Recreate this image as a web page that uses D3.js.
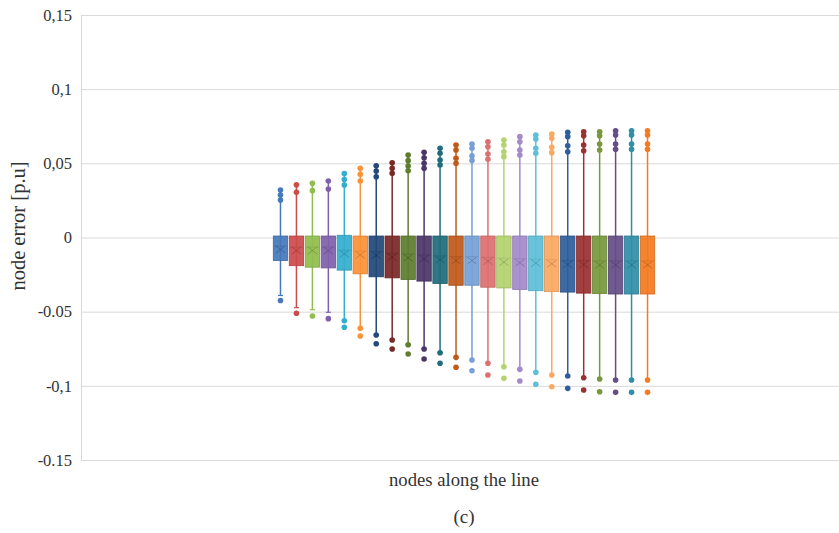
<!DOCTYPE html>
<html>
<head>
<meta charset="utf-8">
<script src="https://cdn.jsdelivr.net/npm/d3@7"></script>
<style>
  html, body { margin: 0; padding: 0; background: #ffffff; }
  svg { display: block; }
  text { font-family: "Liberation Serif", "DejaVu Serif", serif; fill: #333333; }
</style>
</head>
<body>
<svg id="chart" width="839" height="533"></svg>
<script>
// ---------------- data ----------------
const categories = ["nodes along the line"];
const series = ["1","2","3","4","5","6","7","8","9","10","11","12",
                "13","14","15","16","17","18","19","20","21","22","23","24"];
const colors = ["#4579BA","#CC4B4B","#90BD4C","#8060AC","#34AECF","#FB9238",
                "#22497A","#7A2828","#5E7D2E","#4C3668","#1F6D7C","#C05A1B",
                "#76A0D6","#DD7070","#B3D36E","#A48ACA","#5EC0D8","#FBA962",
                "#2E5F9C","#9A3232","#77993C","#654D87","#2F8FA8","#F47B20"];
const q3 = [0.001,0.001,0.001,0.001,0.0015,0.001,0.001,0.001,0.001,0.001,0.001,0.001,
            0.001,0.001,0.001,0.001,0.001,0.001,0.001,0.001,0.001,0.001,0.001,0.001];
const q1 = [-0.0155,-0.019,-0.020,-0.0205,-0.022,-0.0245,-0.0265,-0.0272,-0.0283,-0.0294,-0.031,-0.0322,
            -0.0322,-0.0335,-0.034,-0.035,-0.0359,-0.0365,-0.0368,-0.0375,-0.0378,-0.0381,-0.0381,-0.0381];
const means = [-0.0081,-0.0088,-0.0088,-0.0088,-0.011,-0.0117,-0.012,-0.0133,-0.0137,-0.0144,-0.015,-0.0155,
               -0.0155,-0.016,-0.0166,-0.017,-0.0173,-0.0177,-0.0182,-0.0182,-0.0185,-0.0185,-0.0185,-0.0185];
const medians = [-0.0058,-0.0064,-0.0064,-0.0064,-0.0085,-0.0092,-0.0095,-0.0107,-0.0111,-0.0118,-0.0124,-0.0129,
                 -0.0129,-0.0134,-0.0139,-0.0143,-0.0146,-0.015,-0.0155,-0.0155,-0.0158,-0.0158,-0.0158,-0.0158];
const highWhisker = [0.032,0.0356,0.0365,0.0381,0.0431,0.0467,0.0484,0.0504,0.0556,0.0574,0.0601,0.0624,
                     0.063,0.0646,0.0657,0.068,0.0691,0.0698,0.0709,0.0713,0.0713,0.072,0.072,0.072];
const highPoints = [
  [0.032,0.0287,0.0253],[0.0356,0.0305],[0.0365,0.0316],[0.0381,0.0327],
  [0.0431,0.0391,0.0354],[0.0467,0.0426,0.0381],[0.0484,0.0448,0.041],[0.0504,0.0467,0.0433],
  [0.0556,0.0518,0.0482,0.045],[0.0574,0.0538,0.05,0.0467],[0.0601,0.0568,0.0522,0.0489],[0.0624,0.059,0.0534,0.05],
  [0.063,0.0601,0.055,0.0519],[0.0646,0.0612,0.0563,0.0527],[0.0657,0.0624,0.0578,0.0545],[0.068,0.0646,0.059,0.0556],
  [0.0691,0.0664,0.0601,0.0568],[0.0698,0.0669,0.0608,0.0572],[0.0709,0.068,0.0619,0.0578],[0.0713,0.0686,0.0624,0.0585],
  [0.0713,0.0686,0.063,0.059],[0.072,0.0691,0.063,0.0595],[0.072,0.0691,0.063,0.0595],[0.072,0.0691,0.063,0.0595]
];
const lowWhisker = [-0.0391,-0.0473,-0.0487,-0.0504,-0.0561,-0.0612,-0.0657,-0.0691,-0.0723,-0.0752,-0.0777,-0.0808,
                    -0.0826,-0.0848,-0.0871,-0.0889,-0.0909,-0.0927,-0.0934,-0.0945,-0.0954,-0.0961,-0.0961,-0.0961];
const lowPoints = [
  [-0.0425],[-0.0511],[-0.0529],[-0.0547],
  [-0.0561,-0.0605],[-0.0612,-0.0664],[-0.0657,-0.0716],[-0.0691,-0.0752],
  [-0.0723,-0.0785],[-0.0752,-0.0819],[-0.0777,-0.0848],[-0.0808,-0.0875],
  [-0.0826,-0.0898],[-0.0848,-0.0927],[-0.0871,-0.0949],[-0.0889,-0.0967],
  [-0.0909,-0.099],[-0.0927,-0.1006],[-0.0934,-0.1017],[-0.0945,-0.1028],
  [-0.0954,-0.104],[-0.0961,-0.1044],[-0.0961,-0.1044],[-0.0961,-0.1044]
];
const tickValues = [0.15, 0.1, 0.05, 0, -0.05, -0.1, -0.15];
const tickLabels = ["0,15", "0,1", "0,05", "0", "-0.05", "-0,1", "-0.15"];
const xTitle = "nodes along the line";
const yTitle = "node error [p.u]";
const caption = "(c)";

// ---------------- layout ----------------
const svg = d3.select("#chart");
const plotLeft = 81, plotRight = 847, plotTop = 15, plotBottom = 460;

const y = d3.scaleLinear().domain([-0.15, 0.15]).range([plotBottom, plotTop]);
const x0 = d3.scaleBand().domain(categories).range([plotLeft, plotRight])
  .paddingInner(0).paddingOuter(0.5);
const x1 = d3.scaleBand().domain(series).range([0, x0.bandwidth()])
  .paddingInner(0.1).paddingOuter(0.05);

// gridlines
const grid = svg.append("g").attr("transform", `translate(${plotLeft},0)`)
  .call(d3.axisLeft(y).tickValues(tickValues).tickSize(-(plotRight - plotLeft)).tickFormat(""));
grid.select(".domain").remove();
grid.selectAll("line").attr("stroke", "#d9d9d9").attr("stroke-width", 1);

// left border
svg.append("line").attr("x1", plotLeft + 0.5).attr("x2", plotLeft + 0.5)
  .attr("y1", plotTop).attr("y2", plotBottom).attr("stroke", "#d9d9d9");

// tick labels
const yAxis = svg.append("g").attr("transform", `translate(${plotLeft - 9},0)`)
  .call(d3.axisLeft(y).tickValues(tickValues).tickSize(0).tickPadding(0)
        .tickFormat((d, i) => tickLabels[i]));
yAxis.select(".domain").remove();
yAxis.selectAll("text").attr("font-size", 16.5).attr("fill", "#333")
  .attr("font-family", "Liberation Serif, serif");

// boxes
const data = series.map((s, i) => ({
  s, c: colors[i], q1: q1[i], q3: q3[i], mean: means[i], med: medians[i],
  hw: highWhisker[i], lw: lowWhisker[i], hp: highPoints[i], lp: lowPoints[i]
}));

const g = svg.append("g").selectAll("g.box").data(data).join("g")
  .attr("class", "box")
  .attr("transform", d => `translate(${x0(categories[0]) + x1(d.s)},0)`);

const bw = x1.bandwidth();
const cx = bw / 2;

// whiskers
g.append("line").attr("x1", cx).attr("x2", cx)
  .attr("y1", d => y(d.hw)).attr("y2", d => y(d.lw))
  .attr("stroke", d => d.c).attr("stroke-width", 1.5);
// caps
g.append("line").attr("x1", cx - 2.5).attr("x2", cx + 2.5)
  .attr("y1", d => y(d.lw)).attr("y2", d => y(d.lw))
  .attr("stroke", d => d.c).attr("stroke-width", 1.2);
g.append("line").attr("x1", cx - 2.5).attr("x2", cx + 2.5)
  .attr("y1", d => y(d.hw)).attr("y2", d => y(d.hw))
  .attr("stroke", d => d.c).attr("stroke-width", 1.2);

// box
g.append("rect").attr("x", 0).attr("width", bw)
  .attr("y", d => y(d.q3)).attr("height", d => y(d.q1) - y(d.q3))
  .attr("fill", d => d.c).attr("fill-opacity", 0.93)
  .attr("stroke", d => d3.color(d.c).darker(0.4)).attr("stroke-width", 0.8);

// median
g.append("line").attr("x1", 0.5).attr("x2", bw - 0.5)
  .attr("y1", d => y(d.med)).attr("y2", d => y(d.med))
  .attr("stroke", d => d3.color(d.c).darker(0.7)).attr("stroke-opacity", 0.45)
  .attr("stroke-width", 0.8);

// mean X
g.append("path")
  .attr("d", d => {
    const my = y(d.mean);
    return `M${cx - 4.5},${my - 3.5}L${cx + 4.5},${my + 3.5}M${cx - 4.5},${my + 3.5}L${cx + 4.5},${my - 3.5}`;
  })
  .attr("stroke", d => d3.color(d.c).darker(0.8)).attr("stroke-opacity", 0.7)
  .attr("stroke-width", 1).attr("fill", "none");

// points
g.selectAll("circle.hp").data(d => d.hp.map(v => ({ v, c: d.c }))).join("circle")
  .attr("class", "hp").attr("cx", cx).attr("cy", d => y(d.v)).attr("r", 2.8)
  .attr("fill", d => d.c);
g.selectAll("circle.lp").data(d => d.lp.map(v => ({ v, c: d.c }))).join("circle")
  .attr("class", "lp").attr("cx", cx).attr("cy", d => y(d.v)).attr("r", 2.8)
  .attr("fill", d => d.c);

// titles
const midX = x0(categories[0]) + x0.bandwidth() / 2;
svg.append("text").attr("x", midX).attr("y", 486).attr("text-anchor", "middle")
  .attr("font-size", 18.7).text(xTitle);
svg.append("text").attr("x", midX).attr("y", 523).attr("text-anchor", "middle")
  .attr("font-size", 19).text(caption);
svg.append("text").attr("transform", `translate(25,226) rotate(-90)`)
  .attr("text-anchor", "middle").attr("font-size", 20.5).text(yTitle);
</script>
</body>
</html>
